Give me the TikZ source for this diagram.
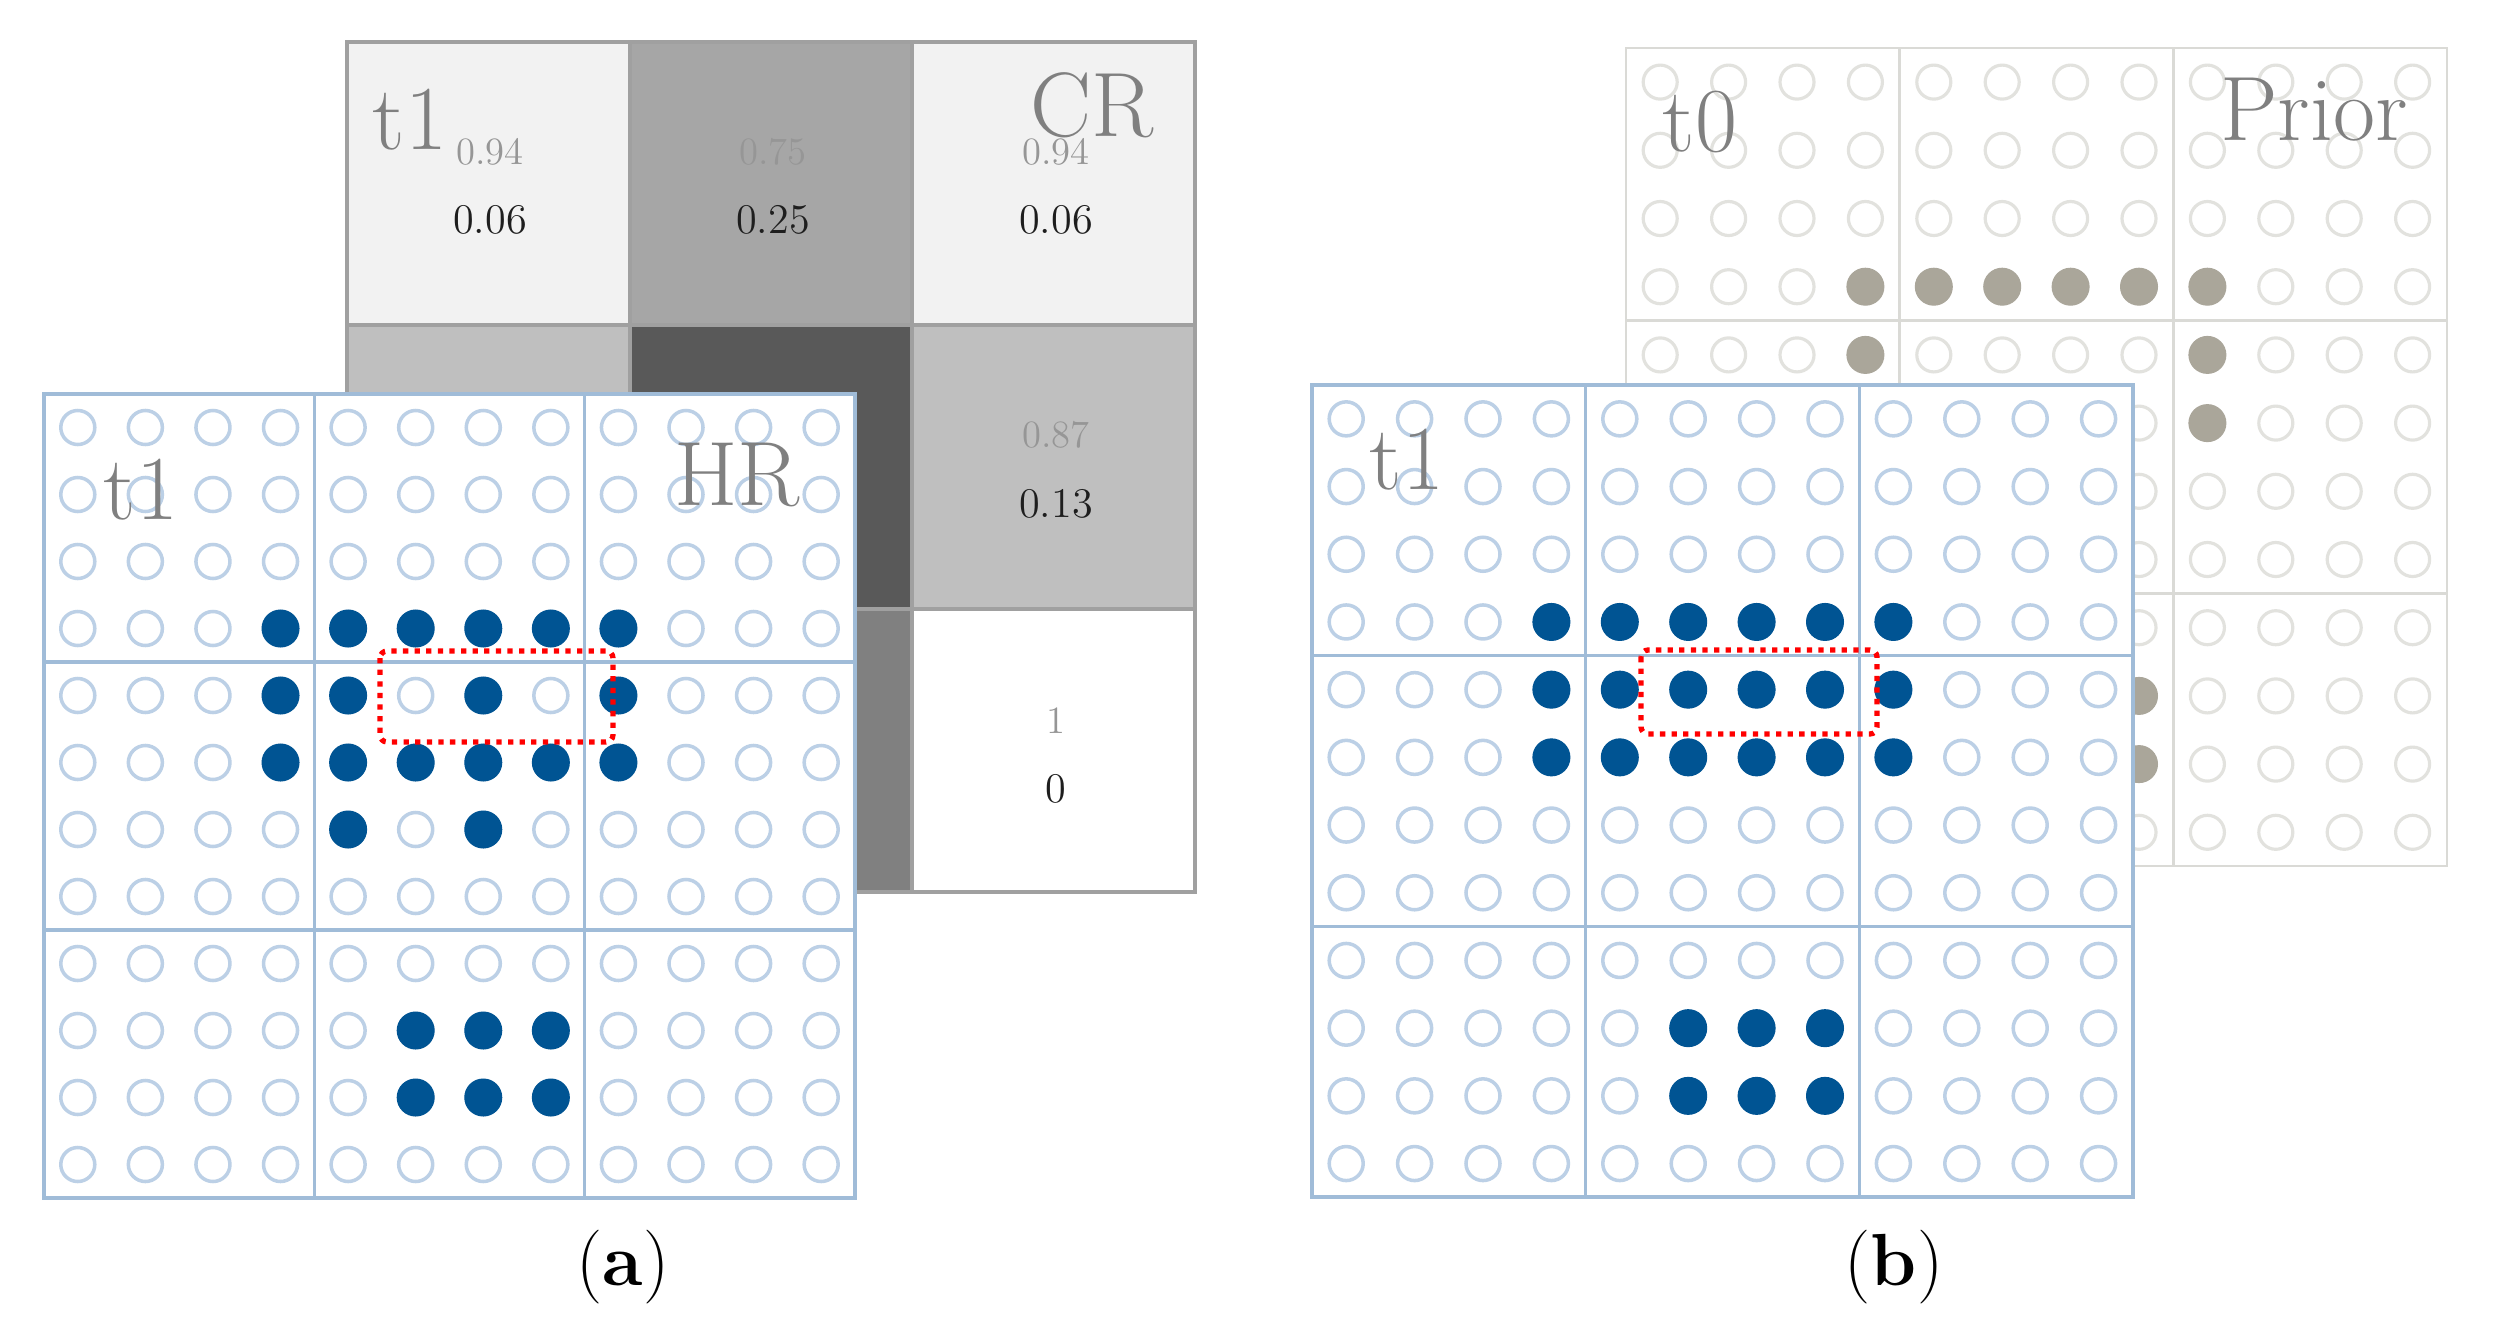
\documentclass[tikz,border=0pt]{standalone}
\usepackage{tikz}
\usetikzlibrary{positioning}

\definecolor{cellline}{RGB}{160,160,160}
\definecolor{shadeA}{RGB}{242,242,242}
\definecolor{shadeB}{RGB}{191,191,191}
\definecolor{shadeC}{RGB}{166,166,166}
\definecolor{shadeD}{RGB}{128,128,128}
\definecolor{shadeE}{RGB}{89,89,89}
\definecolor{gridblue}{RGB}{160,188,216}
\definecolor{ringblue}{RGB}{188,208,230}
\definecolor{dotblue}{RGB}{0,84,147}
\definecolor{gridgray}{RGB}{218,218,214}
\definecolor{ringgray}{RGB}{226,226,222}
\definecolor{dotgray}{RGB}{170,166,154}
\definecolor{taggray}{RGB}{128,128,128}
\definecolor{probgray}{RGB}{150,150,150}
\definecolor{probdark}{RGB}{30,30,30}

\tikzset{
  crcell/.style     = {draw=cellline, line width=1.1pt},
  blueframe/.style  = {draw=gridblue, line width=0.9pt},
  bluering/.style   = {draw=ringblue, line width=1pt},
  bluedot/.style    = {fill=dotblue},
  grayframe/.style  = {draw=gridgray, line width=0.7pt},
  grayring/.style   = {draw=ringgray, line width=0.9pt},
  graydot/.style    = {fill=dotgray},
  redbox/.style     = {draw=red, line width=1.5pt, dash pattern=on 1.5pt off 1.8pt, rounded corners=2pt},
  bigtag/.style     = {text=taggray, inner sep=0pt, font=\fontsize{26}{30}\selectfont},
  probhi/.style     = {text=probgray, inner sep=0pt, font=\fontsize{11}{13}\selectfont},
  problo/.style     = {text=probdark, inner sep=0pt, font=\fontsize{12}{14}\selectfont},
  caption/.style    = {inner sep=0pt, font=\fontsize{21}{25}\selectfont}
}

\begin{document}
\begin{tikzpicture}[x=0.01cm, y=-0.01cm]
\useasboundingbox (0,0) rectangle (2499,1339);

% (a) CR matrix behind the HR grid
\foreach \i/\j/\shade in {0/0/shadeA, 1/0/shadeC, 2/0/shadeA,
                          0/1/shadeB, 1/1/shadeE, 2/1/shadeB,
                          0/2/shadeB, 1/2/shadeD, 2/2/white}
  \filldraw[crcell, fill=\shade] ({347+282.7*\i}, {42+283.3*\j}) rectangle ++(282.7,283.3);

\node[bigtag] (crtime) at (410,120) {t1};
\node[bigtag] (crname) at (1092,105) {CR};
\node[probhi] (p11) at (490,152) {0.94};
\node[problo] (q11) at (490,220) {0.06};
\node[probhi] (p12) at (773,152) {0.75};
\node[problo] (q12) at (773,220) {0.25};
\node[probhi] (p13) at (1056,152) {0.94};
\node[problo] (q13) at (1056,220) {0.06};
\node[probhi] (p23) at (1056,435) {0.87};
\node[problo] (q23) at (1056,504) {0.13};
\node[probhi] (p33) at (1056,721) {1};
\node[problo] (q33) at (1056,789) {0};

% (a) HR grid
\begin{scope}[shift={(44,394)}]
  \filldraw[blueframe, fill=white] (0,0) rectangle (811,804);
  \draw[blueframe] (270.3,0) -- (270.3,804) (540.7,0) -- (540.7,804)
                   (0,268) -- (811,268) (0,536) -- (811,536);
  \foreach \i in {1,...,12}
    \foreach \j in {1,...,12}
      \draw[bluering] ({67.58*(\i-0.5)}, {67*(\j-0.5)}) circle (0.17cm);
  \foreach \i/\j in {4/4,5/4,6/4,7/4,8/4,9/4,
                     4/5,5/5,7/5,9/5,
                     4/6,5/6,6/6,7/6,8/6,9/6,
                     5/7,7/7,
                     6/10,7/10,8/10,6/11,7/11,8/11}
    \fill[bluedot] ({67.58*(\i-0.5)}, {67*(\j-0.5)}) circle (0.19cm);
\end{scope}
\draw[redbox] (380,651) rectangle (613,742);
\node[bigtag] (hrtime) at (141,490) {t1};
\node[bigtag] (hrname) at (737,475) {HR};

% (b) prior grid
\begin{scope}[shift={(1626,48)}]
  \filldraw[grayframe, fill=white] (0,0) rectangle (821,818);
  \draw[grayframe] (273.7,0) -- (273.7,818) (547.3,0) -- (547.3,818)
                   (0,272.7) -- (821,272.7) (0,545.3) -- (821,545.3);
  \foreach \i in {1,...,12}
    \foreach \j in {1,...,12}
      \draw[grayring] ({68.4*(\i-0.5)}, {68.2*(\j-0.5)}) circle (0.17cm);
  \foreach \i/\j in {4/4,5/4,6/4,7/4,8/4,9/4,
                     4/5,9/5,9/6,
                     6/10,7/10,8/10,6/11,7/11,8/11}
    \fill[graydot] ({68.4*(\i-0.5)}, {68.2*(\j-0.5)}) circle (0.19cm);
\end{scope}
\node[bigtag] (ptime) at (1700,122) {t0};
\node[bigtag] (pname) at (2314,110) {Prior};

% (b) current grid
\begin{scope}[shift={(1312,385)}]
  \filldraw[blueframe, fill=white] (0,0) rectangle (821,812);
  \draw[blueframe] (273.7,0) -- (273.7,812) (547.3,0) -- (547.3,812)
                   (0,270.7) -- (821,270.7) (0,541.3) -- (821,541.3);
  \foreach \i in {1,...,12}
    \foreach \j in {1,...,12}
      \draw[bluering] ({68.4*(\i-0.5)}, {67.7*(\j-0.5)}) circle (0.17cm);
  \foreach \i/\j in {4/4,5/4,6/4,7/4,8/4,9/4,
                     4/5,5/5,6/5,7/5,8/5,9/5,
                     4/6,5/6,6/6,7/6,8/6,9/6,
                     6/10,7/10,8/10,6/11,7/11,8/11}
    \fill[bluedot] ({68.4*(\i-0.5)}, {67.7*(\j-0.5)}) circle (0.19cm);
\end{scope}
\draw[redbox] (1641,650) rectangle (1877,734);
\node[bigtag] (ctime) at (1407,460) {t1};

% captions
\node[caption] (capa) at (623,1267) {(\textbf{a})};
\node[caption] (capb) at (1894,1267) {(\textbf{b})};
\end{tikzpicture}
\end{document}
